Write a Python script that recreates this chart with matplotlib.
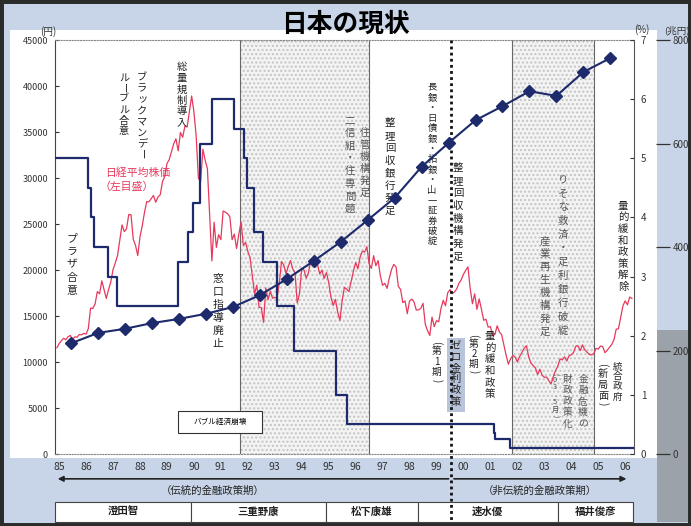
import matplotlib
matplotlib.use("Agg")
import matplotlib.pyplot as plt
from matplotlib.patches import Rectangle
from matplotlib.transforms import blended_transform_factory
import numpy as np

plt.rcParams['font.family'] = ['Noto Sans CJK JP', 'DejaVu Sans']

# ─────────────────────────────────────────────
# データ
# ─────────────────────────────────────────────

# 日経平均株価（月末値、1984年12月から）
nikkei_inicio = 1984.92
nikkei = [
    11543,
    11992, 12321, 12580, 12426, 12758, 12882, 12461, 12737, 12700, 12986, 12953, 13113,  # 85
    13024, 13640, 15859, 15825, 16300, 17654, 17419, 18820, 17853, 16911, 17852, 18701,  # 86
    20048, 20766, 21566, 23274, 24901, 24176, 24488, 26029, 26010, 23329, 22687, 21564,  # 87
    23622, 24801, 26260, 27434, 27417, 27769, 28101, 27366, 27924, 28175, 29579, 30159,  # 88
    31581, 31986, 32839, 33713, 34267, 32949, 34954, 34431, 35637, 35549, 37269, 38916,  # 89
    37189, 34592, 29980, 29585, 33131, 31940, 31036, 25978, 20984, 25194, 22455, 23849,  # 90
    23293, 26409, 26292, 26112, 25790, 23291, 23900, 22336, 23916, 25222, 22687, 22984,  # 91
    22023, 21339, 19346, 17391, 18348, 15952, 15910, 14309, 18061, 16767, 17684, 16925,  # 92
    17023, 16953, 18591, 20919, 20552, 19590, 20380, 21027, 20106, 19704, 16408, 17417,  # 93
    20229, 19997, 19112, 19725, 20974, 20644, 20449, 20629, 19564, 19990, 19076, 19723,  # 94
    18650, 17054, 16140, 16807, 15437, 14517, 16678, 18117, 17913, 17655, 18744, 19868,  # 95
    20813, 20125, 21407, 22041, 21956, 22531, 20692, 20167, 21556, 20466, 21020, 19361,  # 96
    18330, 18557, 18003, 19151, 20069, 20605, 20331, 18229, 17888, 16459, 16636, 15258,  # 97
    16628, 16831, 16527, 15641, 15671, 15830, 16378, 14108, 13406, 12879, 14883, 13842,  # 98
    14499, 14368, 15837, 16701, 16112, 17530, 17862, 17437, 17605, 17942, 18558, 18934,  # 99
    19540, 19960, 20337, 17974, 16332, 17411, 15727, 16861, 15747, 14540, 14649, 13786,  # 00
    13844, 12884, 12999, 13934, 13262, 12969, 11861, 10714, 9775, 10366, 10697, 10543,   # 01
    9998, 10588, 11025, 11493, 11764, 10622, 9878, 9620, 9383, 8640, 9216, 8579,         # 02
    8340, 8363, 7973, 7607, 8425, 9083, 9563, 10344, 10219, 10560, 10101, 10677,         # 03
    10784, 11042, 11715, 11762, 11236, 11859, 11326, 11082, 10824, 10771, 10899, 11489,  # 04
    11388, 11740, 11669, 11009, 11277, 11584, 11900, 12414, 13574, 13607, 14872, 16111,  # 05
    16650, 16205, 17060, 16906,                                                          # 06
]

# 公定歩合（%）：変更日と水準
tasa_fechas = [1984.85, 1986.08, 1986.19, 1986.30, 1986.83, 1987.15, 1989.41, 1989.78,
               1989.98, 1990.22, 1990.66, 1991.50, 1991.87, 1991.99, 1992.25, 1992.57,
               1993.10, 1993.72, 1995.29, 1995.69, 2001.12, 2001.16, 2001.72, 2006.33]
tasa = [5.0, 4.5, 4.0, 3.5, 3.0, 2.5, 3.25, 3.75, 4.25, 5.25, 6.0, 5.5, 5.0, 4.5, 3.75,
        3.25, 2.5, 1.75, 1.0, 0.5, 0.35, 0.25, 0.1, 0.1]

# 長期債務残高（兆円、年度）
deuda_fy = list(range(1985, 2006))
deuda = [214, 234, 242, 253, 261, 271, 284, 307, 338, 373, 410, 452, 495, 555, 601,
         645, 672, 701, 692, 738, 765]

anos = list(range(1985, 2007))
anos_rotulos = [f"{a % 100:02d}" for a in anos]

periodos_sombra = [(1991.71, 1996.5), (2001.8, 2004.85)]
inicio_zero = 1999.55

gobernadores = ["澄田智", "三重野康", "松下康雄", "速水優", "福井俊彦"]
gob_limites = [1984.85, 1989.9, 1994.9, 1998.3, 2003.5, 2006.3]

# ─────────────────────────────────────────────
# Figura
# ─────────────────────────────────────────────

W, H = 691, 526
fig = plt.figure(figsize=(W / 100, H / 100), dpi=100)
fig.patch.set_facecolor("#c8d4e7")

def fx(px):
    return px / W

def fy(py):
    return 1 - py / H

# painel branco e faixa cinza à direita
fig.add_artist(Rectangle((fx(10), fy(458)), fx(657) - fx(10), fy(30) - fy(458),
                         transform=fig.transFigure, facecolor="white", edgecolor="none", zorder=-2))
fig.add_artist(Rectangle((fx(657), fy(522)), fx(691) - fx(657), fy(330) - fy(522),
                         transform=fig.transFigure, facecolor="#9ca2aa", edgecolor="none", zorder=-2))
fig.add_artist(Rectangle((0, 0), 1, 1, transform=fig.transFigure, fill=False,
                         edgecolor="#2b2b2b", lw=5, zorder=10))

ax = fig.add_axes([fx(55), fy(454), fx(634) - fx(55), fy(40) - fy(454)])
ax.set_facecolor("none")
ax.set_xlim(1984.85, 2006.33)
ax.set_ylim(0, 45000)

# períodos sombreados
for a, b in periodos_sombra:
    ax.axvspan(a, b, facecolor="#f3f3f3", edgecolor="#c4c4c4", hatch="....", lw=0, zorder=1)
    ax.axvline(a, color="#666666", lw=0.8, zorder=1.5)
    ax.axvline(b, color="#666666", lw=0.8, zorder=1.5)

nik_x = nikkei_inicio + np.arange(len(nikkei)) / 12
ax.plot(nik_x, nikkei, color="#e6395c", lw=0.9, zorder=3)

ax.set_yticks(range(0, 45001, 5000))
ax.tick_params(axis="y", direction="in", length=3, labelsize=6.5, colors="#333333", pad=5)
ax.set_xticks(anos)
ax.set_xticklabels(anos_rotulos)
ax.tick_params(axis="x", length=0, labelsize=7.5, colors="#333333", pad=6)
for s in ["top", "bottom"]:
    ax.spines[s].set_linestyle((0, (1, 1.5)))
    ax.spines[s].set_color("#888888")
    ax.spines[s].set_linewidth(0.8)
ax.spines["left"].set_color("#444444")
ax.spines["right"].set_visible(False)

# eixo % (公定歩合)
ax2 = ax.twinx()
ax2.set_ylim(0, 7)
ax2.step(tasa_fechas, tasa, where="post", color="#1d2a6b", lw=1.6, zorder=4)
ax2.set_yticks(range(0, 8))
ax2.tick_params(axis="y", direction="in", length=3, labelsize=7, colors="#333333", pad=5)
for s in ["top", "bottom", "left"]:
    ax2.spines[s].set_visible(False)
ax2.spines["right"].set_color("#555555")

# eixo 兆円 (債務残高)
ax3 = ax.twinx()
ax3.set_ylim(0, 800)
ax3.plot(np.array(deuda_fy) + 0.45, deuda, color="#1d2a6b", lw=1.5, marker="D", ms=6.5,
         mfc="#1d2a6b", mec="#1d2a6b", zorder=5)
ax3.set_yticks(range(0, 801, 200))
ax3.spines["right"].set_position(("outward", 21))
ax3.spines["right"].set_color("none")
ax3.tick_params(axis="y", direction="inout", length=10, width=0.9, labelsize=7,
                colors="#333333", pad=2)
for s in ["top", "bottom", "left"]:
    ax3.spines[s].set_visible(False)

# ─────────────────────────────────────────────
# Anotações (texto vertical, um caractere por vez)
# ─────────────────────────────────────────────

def vtext(x, y, s, size=7.5, passo=12.5, color="#222222", z=6):
    acum = 0.0
    for ch in s:
        rot = 0
        if ch in "（）":
            ch = "(" if ch == "（" else ")"
            avanco, rot = 0.55 * passo, -90
        elif ch == "ー":
            avanco, rot = passo, -90
        else:
            avanco = passo
        centro = acum + avanco / 2
        ax.annotate(ch, xy=(x, y), xytext=(0, -centro * 0.72), textcoords="offset points",
                    ha="center", va="center", rotation=rot, fontsize=size, color=color,
                    zorder=z, annotation_clip=False)
        acum += avanco

vtext(1985.48, 24130, "プラザ合意", size=7.8, passo=13)
vtext(1987.41, 41520, "ルーブル合意", size=7.3, passo=10.8)
vtext(1988.08, 41520, "ブラックマンデー", size=7.4, passo=11)
vtext(1989.56, 42610, "総量規制導入", size=7.4, passo=11)
vtext(1990.90, 19780, "窓口指導廃止", size=7.8, passo=13)
vtext(1995.79, 36960, "二信組・住専問題", size=7.5, passo=12.7, color="#555555")
vtext(1996.35, 35540, "住管機構発足", size=7.5, passo=12, color="#555555")
vtext(1997.28, 36630, "整理回収銀行発足", size=7.5, passo=12.5)
vtext(1998.84, 40430, "長銀・日債銀・拓銀・山一証券破綻", size=6.7, passo=10.3)
vtext(1999.80, 31740, "整理回収機構発足", size=7.5, passo=12.6)
vtext(1999.02, 12390, "（第1期）", size=7, passo=10.5)
ax.add_patch(Rectangle((1999.39, 4565), 0.67, 8045, facecolor="#b7c4da", edgecolor="none", zorder=5))
vtext(1999.72, 12390, "ゼロ金利政策", size=7.4, passo=11.2, z=9)
vtext(2000.39, 13150, "（第2期）", size=7, passo=10)
vtext(2000.99, 13480, "量的緩和政策", size=7.5, passo=11.7)
vtext(2003.69, 30540, "りそな救済・足利銀行破綻", size=7.5, passo=13.7, color="#555555")
vtext(2003.03, 23800, "産業再生機構発足", size=7.5, passo=12.9, color="#555555")
vtext(2004.44, 8700, "金融危機の", size=7, passo=11, color="#555555")
vtext(2003.88, 8700, "財政政策化", size=7, passo=11, color="#555555")
vtext(2003.40, 8900, "（03.5月）", size=5.3, passo=7.5, color="#555555")
vtext(2005.92, 27610, "量的緩和政策解除", size=7.5, passo=11.6)
vtext(2005.73, 10000, "統合政府", size=6.9, passo=10)
vtext(2005.18, 10000, "（新局面）", size=7.3, passo=11)

ax.text(1987.93, 30543, "日経平均株価", color="#e6395c", fontsize=7.8, ha="center", va="center", zorder=6)
ax.text(1987.52, 29020, "（左目盛）", color="#e6395c", fontsize=7.8, ha="center", va="center", zorder=6)

ax.add_patch(Rectangle((1989.41, 2283), 3.12, 2391, facecolor="white", edgecolor="#333333",
                       lw=0.8, zorder=6))
ax.text(1990.97, 3480, "バブル経済崩壊", fontsize=5.5, ha="center", va="center", zorder=7)

# linha pontilhada e faixa inferior
tr = blended_transform_factory(ax.transData, ax.transAxes)
ax.plot([inicio_zero, inicio_zero], [1.0, -0.165], transform=tr, clip_on=False,
        color="#111111", lw=2, ls=(0, (1, 1.2)), zorder=8)

ax.annotate("", xy=(1984.95, -0.06), xytext=(inicio_zero - 0.1, -0.06), xycoords=tr,
            textcoords=tr, arrowprops=dict(arrowstyle="-|>", color="#222222", lw=1.2,
                                           mutation_scale=8, shrinkA=0, shrinkB=0))
ax.annotate("", xy=(2006.05, -0.06), xytext=(inicio_zero + 0.1, -0.06), xycoords=tr,
            textcoords=tr, arrowprops=dict(arrowstyle="-|>", color="#222222", lw=1.2,
                                           mutation_scale=8, shrinkA=0, shrinkB=0))
ax.text(1990.7, -0.089, "（伝統的金融政策期）", transform=tr, ha="center", va="center",
        fontsize=7.5, color="#222222")
ax.text(2002.84, -0.089, "（非伝統的金融政策期）", transform=tr, ha="center", va="center",
        fontsize=7.5, color="#222222")

for nome, a, b in zip(gobernadores, gob_limites[:-1], gob_limites[1:]):
    ax.add_patch(Rectangle((a, -0.164), b - a, 0.048, transform=tr, facecolor="white",
                           edgecolor="#444444", lw=0.8, clip_on=False, zorder=2))
    ax.text((a + b) / 2, -0.140, nome, transform=tr, ha="center", va="center",
            fontsize=7.5, color="#222222", fontweight="bold")

# títulos e unidades
fig.text(fx(345), fy(24), "日本の現状", fontsize=18.5, ha="center", va="center", fontweight="bold")
fig.text(fx(48), fy(32), "(円)", fontsize=7, ha="center", va="center", color="#333333")
fig.text(fx(642), fy(30), "(%)", fontsize=7, ha="center", va="center", color="#333333")
fig.text(fx(677), fy(30), "(兆円)", fontsize=6.8, ha="center", va="center", color="#333333")

fig.savefig("out.png", dpi=100, facecolor=fig.get_facecolor())
